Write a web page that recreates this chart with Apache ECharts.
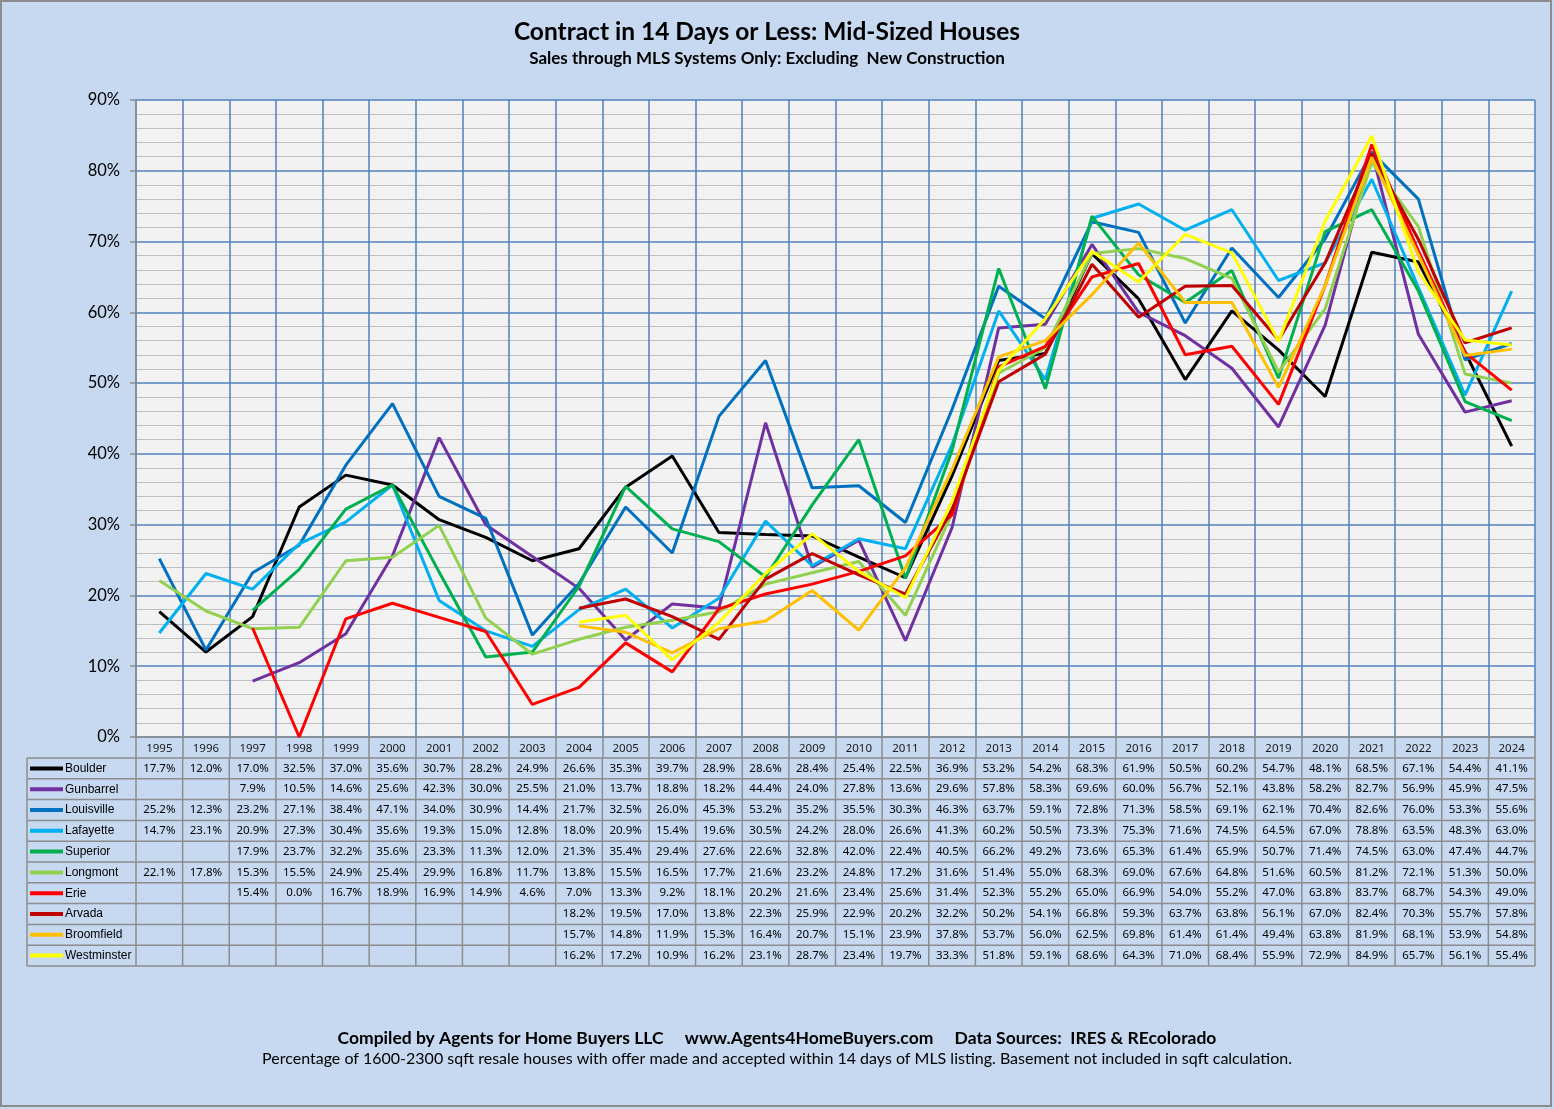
<!DOCTYPE html>
<html>
<head>
<meta charset="utf-8">
<script src="https://cdn.jsdelivr.net/npm/echarts/dist/echarts.min.js"></script>
<style>
html, body { margin: 0; padding: 0; background: #c6d9f0; }
#main { width: 1554px; height: 1109px; }
</style>
</head>
<body>
<div id="main"></div>
<script>
// data
var years = ['1995','1996','1997','1998','1999','2000','2001','2002','2003','2004','2005','2006','2007','2008','2009',
             '2010','2011','2012','2013','2014','2015','2016','2017','2018','2019','2020','2021','2022','2023','2024'];

var boulder     = [17.7,12.0,17.0,32.5,37.0,35.6,30.7,28.2,24.9,26.6,35.3,39.7,28.9,28.6,28.4,25.4,22.5,36.9,53.2,54.2,68.3,61.9,50.5,60.2,54.7,48.1,68.5,67.1,54.4,41.1];
var gunbarrel   = [null,null,7.9,10.5,14.6,25.6,42.3,30.0,25.5,21.0,13.7,18.8,18.2,44.4,24.0,27.8,13.6,29.6,57.8,58.3,69.6,60.0,56.7,52.1,43.8,58.2,82.7,56.9,45.9,47.5];
var louisville  = [25.2,12.3,23.2,27.1,38.4,47.1,34.0,30.9,14.4,21.7,32.5,26.0,45.3,53.2,35.2,35.5,30.3,46.3,63.7,59.1,72.8,71.3,58.5,69.1,62.1,70.4,82.6,76.0,53.3,55.6];
var lafayette   = [14.7,23.1,20.9,27.3,30.4,35.6,19.3,15.0,12.8,18.0,20.9,15.4,19.6,30.5,24.2,28.0,26.6,41.3,60.2,50.5,73.3,75.3,71.6,74.5,64.5,67.0,78.8,63.5,48.3,63.0];
var superior    = [null,null,17.9,23.7,32.2,35.6,23.3,11.3,12.0,21.3,35.4,29.4,27.6,22.6,32.8,42.0,22.4,40.5,66.2,49.2,73.6,65.3,61.4,65.9,50.7,71.4,74.5,63.0,47.4,44.7];
var longmont    = [22.1,17.8,15.3,15.5,24.9,25.4,29.9,16.8,11.7,13.8,15.5,16.5,17.7,21.6,23.2,24.8,17.2,31.6,51.4,55.0,68.3,69.0,67.6,64.8,51.6,60.5,81.2,72.1,51.3,50.0];
var erie        = [null,null,15.4,0.0,16.7,18.9,16.9,14.9,4.6,7.0,13.3,9.2,18.1,20.2,21.6,23.4,25.6,31.4,52.3,55.2,65.0,66.9,54.0,55.2,47.0,63.8,83.7,68.7,54.3,49.0];
var arvada      = [null,null,null,null,null,null,null,null,null,18.2,19.5,17.0,13.8,22.3,25.9,22.9,20.2,32.2,50.2,54.1,66.8,59.3,63.7,63.8,56.1,67.0,82.4,70.3,55.7,57.8];
var broomfield  = [null,null,null,null,null,null,null,null,null,15.7,14.8,11.9,15.3,16.4,20.7,15.1,23.9,37.8,53.7,56.0,62.5,69.8,61.4,61.4,49.4,63.8,81.9,68.1,53.9,54.8];
var westminster = [null,null,null,null,null,null,null,null,null,16.2,17.2,10.9,16.2,23.1,28.7,23.4,19.7,33.3,51.8,59.1,68.6,64.3,71.0,68.4,55.9,72.9,84.9,65.7,56.1,55.4];

var cities = ['Boulder','Gunbarrel','Louisville','Lafayette','Superior','Longmont','Erie','Arvada','Broomfield','Westminster'];
var values = [boulder, gunbarrel, louisville, lafayette, superior, longmont, erie, arvada, broomfield, westminster];
var colors = ['#000000','#7030a0','#0070c0','#00b0f0','#00b050','#92d050','#ff0000','#c00000','#ffc000','#ffff00'];

var BLUE = '#4f81bd';
var GRAY = '#8c8c8c';
var TXT = '#1a1a1a';
var MAIN_FONT = 'Lato, "Noto Sans", sans-serif';
var CELL_FONT = '"Noto Sans", "Liberation Sans", sans-serif';
var LABEL_FONT = '"Liberation Sans", Arial, sans-serif';

var chart = echarts.init(document.getElementById('main'));

var series = cities.map(function (name, i) {
    return {
        name: name,
        type: 'line',
        data: values[i],
        symbol: 'none',
        color: colors[i],
        lineStyle: { width: 3, color: colors[i] },
        connectNulls: false,
        animation: false
    };
});

chart.setOption({
    backgroundColor: '#c6d9f0',
    animation: false,
    grid: {
        left: 136, right: 19, top: 100, bottom: 372,
        show: true, backgroundColor: '#f2f2f2', borderWidth: 0
    },
    xAxis: {
        type: 'category',
        data: years,
        boundaryGap: true,
        axisLine: { show: true, lineStyle: { color: GRAY, width: 1.5 } },
        axisTick: { show: true, interval: 0, length: 21, alignWithLabel: false, lineStyle: { color: GRAY, width: 1.5 } },
        axisLabel: { interval: 0, margin: 6, fontFamily: CELL_FONT, fontSize: 11.5, color: TXT },
        splitLine: { show: true, interval: 0, lineStyle: { color: BLUE, width: 1.5 } }
    },
    yAxis: {
        type: 'value',
        min: 0, max: 90, interval: 10,
        axisLine: { show: true, lineStyle: { color: GRAY, width: 1.5 } },
        axisTick: { show: true, length: 6, lineStyle: { color: GRAY, width: 1.5 } },
        axisLabel: { formatter: '{value}%', margin: 16, fontFamily: MAIN_FONT, fontSize: 16.5, color: '#000' },
        splitLine: { show: true, lineStyle: { color: BLUE, width: 1.5 } },
        minorTick: { show: false, splitNumber: 5 },
        minorSplitLine: { show: true, lineStyle: { color: '#bfbfbf', width: 1 } }
    },
    series: series
});

function txt(text, x, y, size, weight, font, align) {
    return { type: 'text', silent: true, z: 11,
        style: { text: text, x: x, y: y, fill: '#000', fontFamily: font, fontSize: size, fontWeight: weight || 'normal',
                 align: align || 'center', verticalAlign: 'middle',
                 textAlign: align || 'center', textVerticalAlign: 'middle' } };
}

// data table under the plot, lined up with the category axis
function buildGraphics() {
    var g = [];
    var c0 = chart.convertToPixel({ xAxisIndex: 0 }, years[0]);
    var c1 = chart.convertToPixel({ xAxisIndex: 0 }, years[1]);
    var half = (c1 - c0) / 2;
    var left = c0 - half;
    var right = chart.convertToPixel({ xAxisIndex: 0 }, years[years.length - 1]) + half;
    var bottom = chart.convertToPixel({ yAxisIndex: 0 }, 0);
    var top = bottom + 21;
    var rowH = 20.8;
    var labelLeft = 27;
    var tblBottom = top + rowH * cities.length;

    // titles
    g.push(txt('Contract in 14 Days or Less: Mid-Sized Houses', 767, 32, 24.5, 'bold', MAIN_FONT));
    g.push(txt('Sales through MLS Systems Only: Excluding  New Construction', 767, 59, 17, 'bold', MAIN_FONT));

    // horizontal borders
    for (var r = 0; r <= cities.length; r++) {
        var y = top + r * rowH;
        g.push({ type: 'line', silent: true, z: 10,
            shape: { x1: labelLeft, y1: y, x2: right, y2: y },
            style: { stroke: GRAY, lineWidth: 1.5 } });
    }
    // vertical borders
    g.push({ type: 'line', silent: true, z: 10,
        shape: { x1: labelLeft, y1: top, x2: labelLeft, y2: tblBottom },
        style: { stroke: GRAY, lineWidth: 1.5 } });
    for (var k = 0; k <= years.length; k++) {
        var x = left + k * 2 * half;
        g.push({ type: 'line', silent: true, z: 10,
            shape: { x1: x, y1: top, x2: x, y2: tblBottom },
            style: { stroke: GRAY, lineWidth: 1.5 } });
    }
    // row labels with legend keys
    cities.forEach(function (name, i) {
        var cy = top + (i + 0.5) * rowH;
        g.push({ type: 'line', silent: true, z: 11,
            shape: { x1: 30, y1: cy, x2: 63, y2: cy },
            style: { stroke: colors[i], lineWidth: 4 } });
        g.push(txt(name, 65, cy, 12, 'normal', LABEL_FONT, 'left'));
        values[i].forEach(function (v, j) {
            if (v === null) return;
            var cx = chart.convertToPixel({ xAxisIndex: 0 }, years[j]);
            g.push(txt(v.toFixed(1) + '%', cx, cy, 11.5, 'normal', CELL_FONT));
        });
    });

    // footer lines
    g.push(txt('Compiled by Agents for Home Buyers LLC     www.Agents4HomeBuyers.com     Data Sources:  IRES & REcolorado',
               777, 1038, 17.5, 'bold', MAIN_FONT));
    g.push(txt('Percentage of 1600-2300 sqft resale houses with offer made and accepted within 14 days of MLS listing. Basement not included in sqft calculation.',
               777, 1059, 16, 'normal', MAIN_FONT));

    // outer frame
    g.push({ type: 'rect', silent: true, z: 20,
        shape: { x: 1, y: 1, width: 1550, height: 1105 },
        style: { fill: 'none', stroke: GRAY, lineWidth: 2 } });

    chart.setOption({ graphic: g });
}

buildGraphics();
</script>
</body>
</html>
